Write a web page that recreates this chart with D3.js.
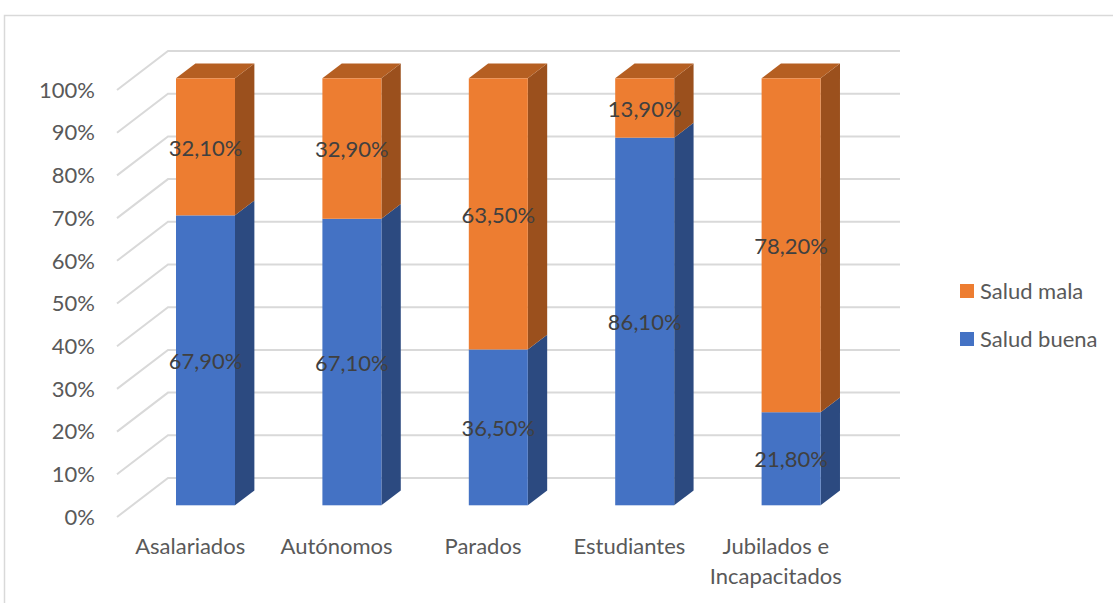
<!DOCTYPE html>
<html>
<head>
<meta charset="utf-8">
<script src="https://cdn.jsdelivr.net/npm/d3@7"></script>
<style>
  body { margin: 0; background: #fff; }
  text { font-family: Lato, "Open Sans", sans-serif; }
</style>
</head>
<body>
<div id="chart"></div>
<script>
// data
var categories = ['Asalariados', 'Autónomos', 'Parados', 'Estudiantes', 'Jubilados e|Incapacitados'];
var saludBuena = [67.9, 67.1, 36.5, 86.1, 21.8];
var saludMala = [32.1, 32.9, 63.5, 13.9, 78.2];
var yTicks = [0, 10, 20, 30, 40, 50, 60, 70, 80, 90, 100];

var w = 1113, h = 603;
var fs = 22;
var svg = d3.select('div#chart').append('svg').attr('width', w).attr('height', h);

// chart border
svg.append('rect').attr('x', 4.5).attr('y', 15.5).attr('width', w + 10).attr('height', h + 10)
   .attr('fill', 'none').attr('stroke', '#d9d9d9').attr('stroke-width', 1.5);

// oblique 3d: depth vector for full floor depth
var depthX = 51, depthY = -39;
var zFront = 0.3, zBack = 0.68;

var x = d3.scaleBand().domain(categories).range([117, 849]);
var y = d3.scaleLinear().domain([0, 100]).range([517, 90]);
var barW = 59;

function px(xs, z) { return xs + z * depthX; }
function py(v, z) { return y(v) + z * depthY; }

// gridlines: diagonal on side wall + horizontal on back wall
var grid = svg.append('g').attr('id', 'grid');
yTicks.forEach(function(t){
  grid.append('polyline')
      .attr('points', [[117, y(t)], [px(117, 1), py(t, 1)], [px(849, 1), py(t, 1)]].join(' '))
      .attr('fill', 'none').attr('stroke', '#d9d9d9').attr('stroke-width', 2);
  svg.append('text').attr('x', 95).attr('y', y(t)).attr('dy', '0.35em')
     .attr('text-anchor', 'end').attr('font-size', fs).attr('fill', '#595959')
     .text(t + '%');
});

var seriesList = [
  {name: 'Salud buena', values: saludBuena, front: '#4472c4', side: '#2c4a80', top: '#3a63ab'},
  {name: 'Salud mala', values: saludMala, front: '#ed7d31', side: '#9b501d', top: '#b55f22'}
];

var bars = svg.append('g').attr('id', 'bars');
categories.forEach(function(c, i){
  var x0 = x(c) + (x.bandwidth() - barW) / 2;
  var fx = px(x0, zFront);
  var base = 0;
  seriesList.forEach(function(s, si){
    var v0 = base, v1 = base + s.values[i];
    var xr = fx + barW;
    // side face
    bars.append('polygon')
        .attr('points', [[xr, py(v0, zFront)], [px(x0 + barW, zBack), py(v0, zBack)],
                         [px(x0 + barW, zBack), py(v1, zBack)], [xr, py(v1, zFront)]].join(' '))
        .attr('fill', s.side);
    // top face (only last segment)
    if (si === seriesList.length - 1) {
      bars.append('polygon')
          .attr('points', [[fx, py(v1, zFront)], [xr, py(v1, zFront)],
                           [px(x0 + barW, zBack), py(v1, zBack)], [px(x0, zBack), py(v1, zBack)]].join(' '))
          .attr('fill', s.top);
    }
    // front face
    bars.append('rect')
        .attr('x', fx).attr('y', py(v1, zFront))
        .attr('width', barW).attr('height', py(v0, zFront) - py(v1, zFront))
        .attr('fill', s.front);
    base = v1;
  });
});

// data labels
categories.forEach(function(c, i){
  var x0 = x(c) + (x.bandwidth() - barW) / 2;
  var cx = px(x0, zFront) + barW / 2;
  var base = 0;
  seriesList.forEach(function(s){
    var v = s.values[i];
    svg.append('text').attr('x', cx).attr('y', py(base + v / 2, zFront) + 1).attr('dy', '0.35em')
       .attr('text-anchor', 'middle').attr('font-size', fs).attr('fill', '#404040')
       .text(v.toFixed(2).replace('.', ',') + '%');
    base += v;
  });
});

// category labels
categories.forEach(function(c){
  var lines = c.split('|');
  var t = svg.append('text').attr('text-anchor', 'middle').attr('font-size', fs).attr('fill', '#595959');
  lines.forEach(function(l, k){
    t.append('tspan').attr('x', x(c) + x.bandwidth() / 2).attr('y', 554 + k * 30).text(l);
  });
});

// legend
var legend = svg.append('g').attr('id', 'legend');
[seriesList[1], seriesList[0]].forEach(function(s, k){
  var ly = 291 + k * 48;
  legend.append('rect').attr('x', 960).attr('y', ly - 7).attr('width', 14).attr('height', 14).attr('fill', s.front);
  legend.append('text').attr('x', 980).attr('y', ly).attr('dy', '0.35em')
        .attr('font-size', fs).attr('fill', '#595959').text(s.name);
});
</script>
</body>
</html>
